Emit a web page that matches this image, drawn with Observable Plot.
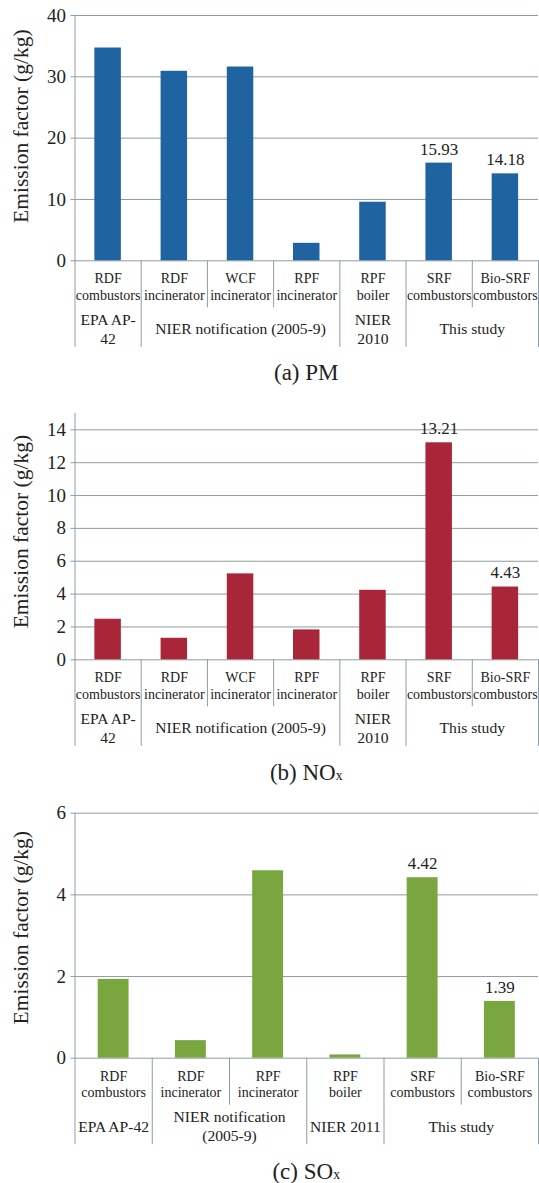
<!DOCTYPE html>
<html>
<head>
<meta charset="utf-8">
<script src="https://cdn.jsdelivr.net/npm/d3@7"></script>
<script src="https://cdn.jsdelivr.net/npm/@observablehq/plot@0.6"></script>
<style>
  html, body { margin: 0; padding: 0; background: #fff; }
  #root { position: relative; width: 539px; height: 1183px; overflow: hidden; color: #222; }
  #root, #root svg, #root svg text, .cap { font-family: "Liberation Serif", "Times New Roman", "DejaVu Serif", serif !important; }
  #root svg { position: absolute; left: 0; }
  .cap { position: absolute; left: 74.5px; width: 463.5px; text-align: center; font-size: 23px; line-height: 26px; }
  .cap small { font-size: 0.6em; }
</style>
</head>
<body>
<div id="root"></div>
<script>
// ---- data ----
const categoriesAB = ["RDF\ncombustors", "RDF\nincinerator", "WCF\nincinerator", "RPF\nincinerator", "RPF\nboiler", "SRF\ncombustors", "Bio-SRF\ncombustors"];
const pmValues  = [34.7, 30.9, 31.6, 2.85, 9.55, 15.93, 14.18];
const noxValues = [2.47, 1.31, 5.23, 1.82, 4.23, 13.21, 4.43];
const groupLabelsAB = ["EPA AP-\n42", "NIER notification (2005-9)", "NIER\n2010", "This study"];
const groupSizesAB  = [1, 3, 1, 2];

const categoriesC = ["RDF\ncombustors", "RDF\nincinerator", "RPF\nincinerator", "RPF\nboiler", "SRF\ncombustors", "Bio-SRF\ncombustors"];
const soxValues = [1.93, 0.43, 4.59, 0.08, 4.42, 1.39];
const groupLabelsC = ["EPA AP-42", "NIER notification\n(2005-9)", "NIER 2011", "This study"];
const groupSizesC  = [1, 2, 1, 2];

const labelledGroup = "This study";
const yTicksPM  = [0, 10, 20, 30, 40];
const yTicksNOx = [0, 2, 4, 6, 8, 10, 12, 14];
const yTicksSOx = [0, 2, 4, 6];
const yTitle = "Emission factor (g/kg)";

// ---- styling ----
const FONT = "'Liberation Serif', 'Times New Roman', 'DejaVu Serif', serif";
const GRID = "#8f9ca1";
const TEXT = "#222";
const W = 539, ML = 74.5, MR = 1;

function chart({cats, values, groupLabels, groupSizes, color, yDomain, yTicks, top, height, marginTop, frameBottom, titleDy}) {
  const n = cats.length;
  const step = (W - ML - MR) / n;
  const marginBottom = top + height - frameBottom;
  const frameH = frameBottom - top - marginTop;
  let s = 0;
  const groups = groupLabels.map((label, k) => { const g = {label, start: s, size: groupSizes[k]}; s += groupSizes[k]; return g; });
  const labelled = new Set();
  groups.filter(g => g.label === labelledGroup).forEach(g => { for (let i = g.start; i < g.start + g.size; i++) labelled.add(i); });
  const data = cats.map((c, i) => ({cat: c, i, v: values[i]}));
  const groupBounds = groups.slice(1).map(g => g.start).concat([n]);
  const shortBounds = d3.range(1, n).filter(b => !groupBounds.includes(b));

  const svg = Plot.plot({
    width: W, height,
    marginLeft: ML, marginRight: MR, marginTop, marginBottom,
    style: {fontSize: "14px", color: TEXT, background: "transparent", overflow: "visible"},
    x: {domain: [0, n], axis: null},
    y: {domain: yDomain},
    marks: [
      Plot.gridY(yTicks, {stroke: GRID, strokeOpacity: 1, strokeWidth: 1}),
      Plot.axisY(yTicks, {tickSize: 4, tickPadding: 5, fontSize: 19, stroke: GRID, fill: TEXT, label: null}),
      Plot.ruleX([0], {stroke: GRID, strokeWidth: 1, insetBottom: -86.5}),
      Plot.ruleX(groupBounds, {stroke: GRID, strokeWidth: 1, insetTop: frameH, insetBottom: -86.5}),
      Plot.ruleX(shortBounds, {stroke: GRID, strokeWidth: 1, insetTop: frameH, insetBottom: -47}),
      Plot.rectY(data, {x1: "i", x2: d => d.i + 1, y: "v", fill: color, insetLeft: step * 0.3, insetRight: step * 0.3}),
      Plot.text(data.filter(d => labelled.has(d.i)), {x: d => d.i + 0.5, y: "v", text: d => d.v.toFixed(2), dy: -14, fontSize: 17, fill: TEXT}),
      Plot.text(data, {x: d => d.i + 0.5, text: "cat", frameAnchor: "bottom", dy: 25.5, lineAnchor: "middle", lineHeight: 1.2, fontSize: 14, fill: TEXT}),
      Plot.text(groups, {x: g => g.start + g.size / 2, text: "label", frameAnchor: "bottom", dy: 67.5, lineAnchor: "middle", lineHeight: 1.2, fontSize: 15.6, fill: TEXT}),
      Plot.text([yTitle], {frameAnchor: "left", textAnchor: "middle", lineAnchor: "middle", rotate: -90, dx: -53.5, dy: titleDy, fontSize: 21.5, fill: TEXT})
    ]
  });
  svg.style.top = top + "px";
  svg.style.fontFamily = FONT;
  svg.querySelectorAll("text").forEach(t => t.style.fontFamily = FONT);
  return svg;
}

const root = document.getElementById("root");
root.appendChild(chart({cats: categoriesAB, values: pmValues, groupLabels: groupLabelsAB, groupSizes: groupSizesAB,
  color: "#1f64a0", yDomain: [0, 40], yTicks: yTicksPM, top: 0, height: 355, marginTop: 15, frameBottom: 260.3, titleDy: -12}));
root.appendChild(chart({cats: categoriesAB, values: noxValues, groupLabels: groupLabelsAB, groupSizes: groupSizesAB,
  color: "#a82638", yDomain: [0, 15], yTicks: yTicksNOx, top: 400, height: 355, marginTop: 12.9, frameBottom: 659.3, titleDy: -5}));
root.appendChild(chart({cats: categoriesC, values: soxValues, groupLabels: groupLabelsC, groupSizes: groupSizesC,
  color: "#7aa640", yDomain: [0, 6], yTicks: yTicksSOx, top: 800, height: 352, marginTop: 12.7, frameBottom: 1057.7, titleDy: -8}));

const caps = [["(a) PM", 373], ["(b) NO<small>x</small>", 773.3], ["(c) SO<small>x</small>", 1171.7]];
for (const [html, cy] of caps) {
  const d = document.createElement("div");
  d.className = "cap";
  d.innerHTML = html;
  d.style.top = (cy - 13) + "px";
  root.appendChild(d);
}
</script>
</body>
</html>
